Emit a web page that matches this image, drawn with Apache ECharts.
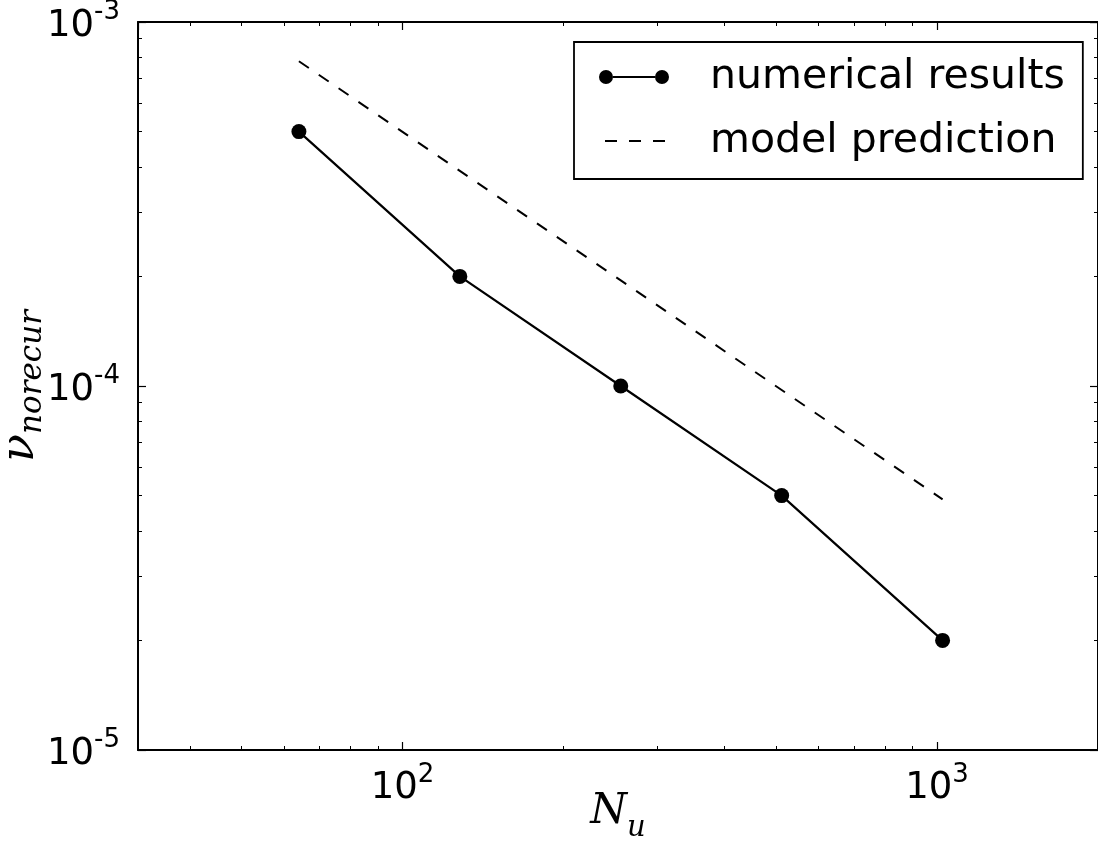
<!DOCTYPE html>
<html>
<head>
<meta charset="utf-8">
<script src="https://cdn.jsdelivr.net/npm/echarts@6/dist/echarts.min.js"></script>
<style>
  html, body { margin: 0; padding: 0; background: #ffffff; }
  #chart { width: 1098px; height: 857px; }
</style>
</head>
<body>
<div id="chart"></div>
<script>
// Grid resolution N_u and the measured / predicted non-recurrence rate
const gridSizes = [64, 128, 256, 512, 1024];
const numericalResults = [5.0e-4, 2.0e-4, 1.0e-4, 5.0e-5, 2.0e-5];
const modelPrediction = [7.8e-4, 3.9e-4, 1.95e-4, 9.75e-5, 4.88e-5];

// Axis ranges and tick positions
const xRange = [32, 2000];
const yRange = [1e-5, 1e-3];
const xMinorTicks = [40, 50, 60, 70, 80, 90, 200, 300, 400, 500, 600, 700, 800, 900];
const yMinorTicks = [2e-5, 3e-5, 4e-5, 5e-5, 6e-5, 7e-5, 8e-5, 9e-5,
                     2e-4, 3e-4, 4e-4, 5e-4, 6e-4, 7e-4, 8e-4, 9e-4];

const seriesNames = ['numerical results', 'model prediction'];

const SANS = 'DejaVu Sans';
const SERIF = 'DejaVu Serif';

const pow10Rich = {
  b: { fontFamily: SANS, fontSize: 37, color: '#000', padding: [8, 0, 0, 0] },
  s: { fontFamily: SANS, fontSize: 26, color: '#000', verticalAlign: 'top' }
};
const pow10 = v => '{b|10}{s|' + Math.round(Math.log10(v)) + '}';

const spine = { show: true, lineStyle: { color: '#000', width: 2 } };
const majorTick = { show: true, inside: true, length: 8, lineStyle: { color: '#000', width: 1.2 } };
const minorTick = values => ({
  show: true, inside: true, length: 4,
  customValues: values,
  lineStyle: { color: '#000', width: 1 }
});

// helper value axes in log10 space carry the minor ticks
function minorAxis(position, range, ticks) {
  return {
    type: 'value', position: position,
    min: Math.log10(range[0]), max: Math.log10(range[1]),
    axisLine: { show: false },
    axisLabel: { show: false },
    splitLine: { show: false },
    axisTick: minorTick(ticks.map(Math.log10))
  };
}

function logAxis(position, range, withLabels) {
  return {
    type: 'log', logBase: 10, position: position,
    min: range[0], max: range[1],
    axisLine: spine,
    axisTick: majorTick,
    splitLine: { show: false },
    axisLabel: withLabels ? {
      show: true, margin: 12,
      showMinLabel: position === 'left',
      showMaxLabel: position === 'left',
      formatter: pow10, rich: pow10Rich
    } : { show: false }
  };
}

// legend glyph: two dots joined by a line
const dotLineIcon = 'path://M0,7a7,7 0 1,0 14,0a7,7 0 1,0 -14,0Z' +
  'M56,7a7,7 0 1,0 14,0a7,7 0 1,0 -14,0Z' +
  'M14,6L56,6L56,8L14,8Z';

const xBottom = logAxis('bottom', xRange, true);
xBottom.name = '{n|N}{u|u}';
xBottom.nameLocation = 'middle';
xBottom.nameMoveOverlap = false;
xBottom.nameGap = 41;
xBottom.nameTextStyle = {
  rich: {
    n: { fontFamily: SERIF, fontStyle: 'italic', fontSize: 42, color: '#000', padding: [0, 0, 10, 0] },
    u: { fontFamily: SERIF, fontStyle: 'italic', fontSize: 29, color: '#000', verticalAlign: 'bottom' }
  }
};

const yLeft = logAxis('left', yRange, true);
yLeft.axisLabel.margin = 18;
yLeft.name = '{n|ν}{u|norecur}';
yLeft.nameLocation = 'middle';
yLeft.nameMoveOverlap = false;
yLeft.nameGap = 90;
yLeft.nameTextStyle = {
  rich: {
    n: { fontFamily: SERIF, fontStyle: 'italic', fontSize: 46, color: '#000', padding: [0, 0, 4, 0] },
    u: { fontFamily: SERIF, fontStyle: 'italic', fontSize: 31, color: '#000', verticalAlign: 'bottom' }
  }
};

const option = {
  animation: false,
  backgroundColor: '#ffffff',
  grid: { left: 138, right: 0, top: 22, bottom: 107, containLabel: false, outerBoundsMode: 'none' },
  legend: {
    orient: 'vertical',
    left: 574, top: 42,
    padding: [11, 18, 14, 24],
    borderColor: '#000', borderWidth: 1.8, borderRadius: 0,
    backgroundColor: '#fff',
    itemGap: 16,
    itemWidth: 70, itemHeight: 14,
    selectedMode: false,
    textStyle: { fontFamily: SANS, fontSize: 41, color: '#000', lineHeight: 48, padding: [0, 0, 0, 36] },
    data: [
      { name: seriesNames[0], icon: dotLineIcon },
      {
        name: seriesNames[1],
        itemStyle: { opacity: 0 },
        lineStyle: { color: '#000', width: 2, type: [12, 12], dashOffset: 18 }
      }
    ]
  },
  xAxis: [
    xBottom,
    logAxis('top', xRange, false),
    minorAxis('bottom', xRange, xMinorTicks),
    minorAxis('top', xRange, xMinorTicks)
  ],
  yAxis: [
    yLeft,
    logAxis('right', yRange, false),
    minorAxis('left', yRange, yMinorTicks),
    minorAxis('right', yRange, yMinorTicks)
  ],
  series: [
    {
      name: seriesNames[0],
      type: 'line',
      xAxisIndex: 0, yAxisIndex: 0,
      data: gridSizes.map((n, i) => [n, numericalResults[i]]),
      symbol: 'circle', symbolSize: 15,
      itemStyle: { color: '#000' },
      lineStyle: { color: '#000', width: 2.2 },
      z: 3
    },
    {
      name: seriesNames[1],
      type: 'line',
      xAxisIndex: 0, yAxisIndex: 0,
      data: gridSizes.map((n, i) => [n, modelPrediction[i]]),
      symbol: 'none',
      itemStyle: { color: '#000' },
      lineStyle: { color: '#000', width: 2, type: [12, 12] },
      z: 2
    }
  ]
};

const chart = echarts.init(document.getElementById('chart'), null, { renderer: 'canvas' });
chart.setOption(option);
</script>
</body>
</html>
